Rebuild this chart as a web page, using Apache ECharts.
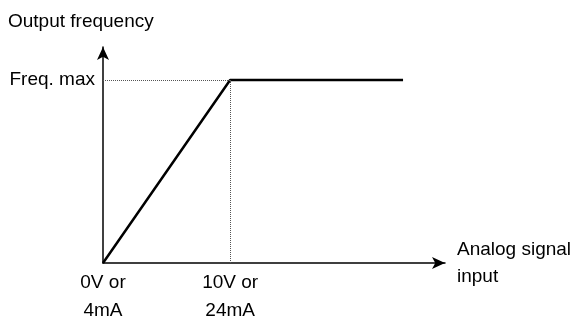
<!DOCTYPE html>
<html>
<head>
<meta charset="utf-8">
<script src="https://cdn.jsdelivr.net/npm/echarts@6/dist/echarts.min.js"></script>
<style>
  html, body { margin: 0; padding: 0; background: #fff; }
  #chart { width: 576px; height: 323px; }
</style>
</head>
<body>
<div id="chart"></div>
<script>
// Output frequency versus analog input signal (characteristic curve)
var signalPoints = [0, 10, 23.6];      // input position (0 = 0V/4mA, 10 = 10V/24mA)
var frequencyPoints = [0, 1, 1];       // relative output frequency (1 = max)
var xTickValues = [0, 10];
var xTickLabels = ['0V or\n4mA', '10V or\n24mA'];
var yTickValues = [1];
var yTickLabels = ['Freq. max'];
var yTitle = 'Output frequency';
var xTitle = 'Analog signal\ninput';

var font = '"Liberation Sans", Arial, sans-serif';
var fontSize = 19;
var chart = echarts.init(document.getElementById('chart'), null, { renderer: 'canvas' });

var curve = signalPoints.map(function (x, i) { return [x, frequencyPoints[i]]; });

chart.setOption({
  animation: false,
  grid: {
    left: 103, right: 576 - 445, top: 47, bottom: 323 - 263,
    containLabel: false, outerBoundsMode: 'none'
  },
  graphic: [{
    type: 'text', left: 8, top: 12,
    style: { text: yTitle, font: fontSize + 'px ' + font, fill: '#000' }
  }],
  xAxis: {
    type: 'value', min: 0, max: 26.9,
    name: xTitle, nameLocation: 'end', nameGap: 12,
    nameTextStyle: { fontFamily: font, fontSize: fontSize, color: '#000', align: 'left', verticalAlign: 'middle', lineHeight: 27 },
    splitLine: { show: false },
    axisTick: { show: false },
    axisLine: { show: true, onZero: false, lineStyle: { color: '#000', width: 1.5 }, symbol: ['none', 'arrow'], symbolSize: [9, 13] },
    axisLabel: {
      customValues: xTickValues,
      formatter: function (v) { return xTickLabels[xTickValues.indexOf(v)] || ''; },
      fontFamily: font, fontSize: fontSize, color: '#000', lineHeight: 28, margin: 6, align: 'center'
    }
  },
  yAxis: {
    type: 'value', min: 0, max: 1.18,
    splitLine: { show: false },
    axisTick: { show: false },
    axisLine: { show: true, onZero: false, lineStyle: { color: '#000', width: 1.5 }, symbol: ['none', 'arrow'], symbolSize: [9, 13] },
    axisLabel: {
      customValues: yTickValues,
      formatter: function (v) { return yTickLabels[yTickValues.indexOf(v)] || ''; },
      fontFamily: font, fontSize: fontSize, color: '#000', margin: 8
    }
  },
  series: [{
    type: 'line',
    data: curve,
    symbol: 'none',
    lineStyle: { color: '#000', width: 2.5 },
    markLine: {
      silent: true,
      symbol: ['none', 'none'],
      label: { show: false },
      lineStyle: { color: '#555', width: 1, type: [1, 1] },
      data: [
        [{ coord: [0, frequencyPoints[1]] }, { coord: [signalPoints[1], frequencyPoints[1]] }],
        [{ coord: [signalPoints[1], 0] }, { coord: [signalPoints[1], frequencyPoints[1]] }]
      ]
    }
  }]
});
</script>
</body>
</html>
